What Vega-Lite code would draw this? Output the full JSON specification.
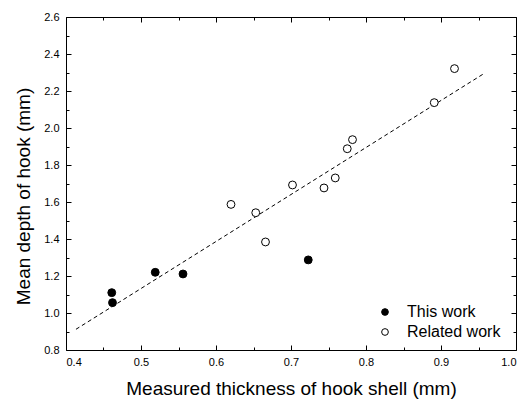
{
  "$schema": "https://vega.github.io/schema/vega-lite/v6.json",
  "width": 450,
  "height": 333,
  "autosize": {"type": "none"},
  "padding": {"left": 66, "top": 17, "right": 6, "bottom": 53},
  "config": {
    "view": {"stroke": "black", "strokeWidth": 1},
    "font": "Liberation Sans",
    "axis": {"grid": false, "domain": false, "tickColor": "black", "labelColor": "black", "titleColor": "black", "labelFont": "Liberation Sans", "titleFont": "Liberation Sans", "labelFontSize": 11, "titleFontSize": 19, "titleFontWeight": "normal"},
    "legend": {"labelFont": "Liberation Sans", "labelFontSize": 16, "labelColor": "black"}
  },
  "datasets": {
    "pts": [
      {"thickness": 0.461, "depth": 1.11, "series": "This work"},
      {"thickness": 0.462, "depth": 1.056, "series": "This work"},
      {"thickness": 0.519, "depth": 1.22, "series": "This work"},
      {"thickness": 0.556, "depth": 1.211, "series": "This work"},
      {"thickness": 0.723, "depth": 1.287, "series": "This work"},
      {"thickness": 0.620, "depth": 1.587, "series": "Related work"},
      {"thickness": 0.653, "depth": 1.542, "series": "Related work"},
      {"thickness": 0.666, "depth": 1.384, "series": "Related work"},
      {"thickness": 0.702, "depth": 1.692, "series": "Related work"},
      {"thickness": 0.744, "depth": 1.676, "series": "Related work"},
      {"thickness": 0.759, "depth": 1.730, "series": "Related work"},
      {"thickness": 0.775, "depth": 1.888, "series": "Related work"},
      {"thickness": 0.782, "depth": 1.937, "series": "Related work"},
      {"thickness": 0.891, "depth": 2.137, "series": "Related work"},
      {"thickness": 0.918, "depth": 2.321, "series": "Related work"}
    ],
    "fit": [
      {"thickness": 0.4133, "depth": 0.912},
      {"thickness": 0.9564, "depth": 2.292}
    ]
  },
  "resolve": {"axis": {"x": "independent", "y": "independent"}},
  "layer": [
    {
      "data": {"name": "fit"},
      "mark": {"type": "line", "color": "black", "strokeWidth": 1, "strokeDash": [4, 3]},
      "encoding": {
        "x": {"field": "thickness", "type": "quantitative", "scale": {"domain": [0.4, 1.0], "nice": false, "zero": false},
              "axis": {"orient": "top", "values": [0.4, 0.5, 0.6, 0.7, 0.8, 0.9, 1.0], "tickSize": -5, "labels": false, "title": null}},
        "y": {"field": "depth", "type": "quantitative", "scale": {"domain": [0.8, 2.6], "nice": false, "zero": false},
              "axis": {"orient": "right", "values": [0.8, 1.0, 1.2, 1.4, 1.6, 1.8, 2.0, 2.2, 2.4, 2.6], "tickSize": -5, "labels": false, "title": null}}
      }
    },
    {
      "data": {"name": "fit"},
      "mark": {"type": "line", "strokeOpacity": 0},
      "encoding": {
        "x": {"field": "thickness", "type": "quantitative",
              "axis": {"orient": "top", "values": [0.45, 0.55, 0.65, 0.75, 0.85, 0.95], "tickSize": -3, "labels": false, "title": null}},
        "y": {"field": "depth", "type": "quantitative",
              "axis": {"orient": "right", "values": [0.9, 1.1, 1.3, 1.5, 1.7, 1.9, 2.1, 2.3, 2.5], "tickSize": -3, "labels": false, "title": null}}
      }
    },
    {
      "data": {"name": "fit"},
      "mark": {"type": "line", "strokeOpacity": 0},
      "encoding": {
        "x": {"field": "thickness", "type": "quantitative",
              "axis": {"orient": "bottom", "values": [0.45, 0.55, 0.65, 0.75, 0.85, 0.95], "tickSize": -3, "labels": false, "title": null}},
        "y": {"field": "depth", "type": "quantitative",
              "axis": {"orient": "left", "values": [0.9, 1.1, 1.3, 1.5, 1.7, 1.9, 2.1, 2.3, 2.5], "tickSize": -3, "labels": false, "title": null}}
      }
    },
    {
      "data": {"name": "pts"},
      "mark": {"type": "circle", "size": 62, "opacity": 1, "stroke": "black", "strokeWidth": 1},
      "encoding": {
        "x": {"field": "thickness", "type": "quantitative",
              "axis": {"orient": "bottom", "values": [0.4, 0.5, 0.6, 0.7, 0.8, 0.9, 1.0], "format": ".1f", "tickSize": -5, "labelPadding": 11, "title": "Measured thickness of hook shell (mm)", "titlePadding": 12}},
        "y": {"field": "depth", "type": "quantitative",
              "axis": {"orient": "left", "values": [0.8, 1.0, 1.2, 1.4, 1.6, 1.8, 2.0, 2.2, 2.4, 2.6], "format": ".1f", "tickSize": -5, "labelPadding": 12, "title": "Mean depth of hook (mm)", "titlePadding": 10, "titleY": 179}},
        "fill": {"field": "series", "type": "nominal",
                 "scale": {"domain": ["This work", "Related work"], "range": ["black", "white"]},
                 "legend": {"title": null, "orient": "none", "legendX": 311, "legendY": 287, "symbolType": "circle", "symbolSize": 45, "symbolStrokeColor": "black", "symbolStrokeWidth": 1, "symbolOpacity": 1, "labelOffset": 14, "rowPadding": 4}}
      }
    }
  ]
}
